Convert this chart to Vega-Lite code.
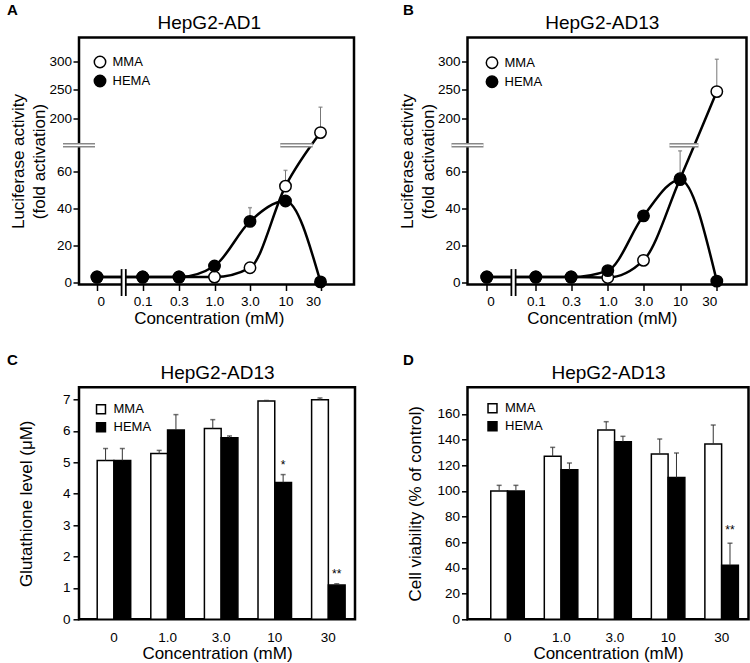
{
  "$schema": "https://vega.github.io/schema/vega-lite/v6.json",
  "padding": {"left": 5, "top": 1.5, "right": 0, "bottom": 0},
  "background": "white",
  "config": {
    "font": "Liberation Sans",
    "view": {"stroke": "black", "strokeWidth": 2.5},
    "axis": {"domain": false, "grid": false, "tickColor": "black", "tickWidth": 1.5, "tickSize": 6, "labelColor": "black", "labelFontSize": 13.5, "titleColor": "black", "titleFontSize": 17, "titleFontWeight": "normal", "labelOverlap": false},
    "title": {"fontSize": 15, "fontWeight": "bold", "color": "black", "offset": 0, "anchor": "start", "frame": "group"},
    "legend": {"labelFontSize": 13, "labelColor": "black", "title": null, "padding": 0, "labelOffset": 6}
  },
  "datasets": {
    "lumA": [
      {"conc": 0, "series": "MMA", "value": 3},
      {"conc": 0.1, "series": "MMA", "value": 3},
      {"conc": 0.3, "series": "MMA", "value": 3},
      {"conc": 1, "series": "MMA", "value": 3},
      {"conc": 3, "series": "MMA", "value": 8},
      {"conc": 10, "series": "MMA", "value": 52, "err": 60.5},
      {"conc": 30, "series": "MMA", "value": 176, "err": 220},
      {"conc": 0, "series": "HEMA", "value": 3},
      {"conc": 0.1, "series": "HEMA", "value": 3},
      {"conc": 0.3, "series": "HEMA", "value": 3},
      {"conc": 1, "series": "HEMA", "value": 9},
      {"conc": 3, "series": "HEMA", "value": 33, "err": 40.4},
      {"conc": 10, "series": "HEMA", "value": 44},
      {"conc": 30, "series": "HEMA", "value": 0.4}
    ],
    "lumB": [
      {"conc": 0, "series": "MMA", "value": 3},
      {"conc": 0.1, "series": "MMA", "value": 3},
      {"conc": 0.3, "series": "MMA", "value": 3},
      {"conc": 1, "series": "MMA", "value": 2.8},
      {"conc": 3, "series": "MMA", "value": 12},
      {"conc": 10, "series": "MMA", "value": 56, "err": 71},
      {"conc": 30, "series": "MMA", "value": 247, "err": 303},
      {"conc": 0, "series": "HEMA", "value": 3},
      {"conc": 0.1, "series": "HEMA", "value": 3},
      {"conc": 0.3, "series": "HEMA", "value": 3},
      {"conc": 1, "series": "HEMA", "value": 6.5},
      {"conc": 3, "series": "HEMA", "value": 36},
      {"conc": 10, "series": "HEMA", "value": 55.5},
      {"conc": 30, "series": "HEMA", "value": 0.8}
    ],
    "gsh": [
      {"conc": "0", "series": "MMA", "value": 5.06, "err": 5.44},
      {"conc": "0", "series": "HEMA", "value": 5.06, "err": 5.44},
      {"conc": "1.0", "series": "MMA", "value": 5.28, "err": 5.38},
      {"conc": "1.0", "series": "HEMA", "value": 6.03, "err": 6.52},
      {"conc": "3.0", "series": "MMA", "value": 6.08, "err": 6.36},
      {"conc": "3.0", "series": "HEMA", "value": 5.78, "err": 5.84},
      {"conc": "10", "series": "MMA", "value": 6.95, "err": 6.97},
      {"conc": "10", "series": "HEMA", "value": 4.36, "err": 4.61, "sig": "*"},
      {"conc": "30", "series": "MMA", "value": 6.99, "err": 7.05},
      {"conc": "30", "series": "HEMA", "value": 1.09, "err": 1.13, "sig": "**"}
    ],
    "via": [
      {"conc": "0", "series": "MMA", "value": 100, "err": 104.4},
      {"conc": "0", "series": "HEMA", "value": 100, "err": 104.4},
      {"conc": "1.0", "series": "MMA", "value": 127, "err": 134},
      {"conc": "1.0", "series": "HEMA", "value": 116.5, "err": 121.8},
      {"conc": "3.0", "series": "MMA", "value": 147.5, "err": 154},
      {"conc": "3.0", "series": "HEMA", "value": 138.4, "err": 142.6},
      {"conc": "10", "series": "MMA", "value": 128.8, "err": 140.5},
      {"conc": "10", "series": "HEMA", "value": 110.5, "err": 129.6},
      {"conc": "30", "series": "MMA", "value": 136.6, "err": 151.4},
      {"conc": "30", "series": "HEMA", "value": 42.1, "err": 59.3, "sig": "**"}
    ]
  },
  "columns": 2,
  "bounds": "flush",
  "align": "each",
  "spacing": {"row": 102.8, "column": 112.5},
  "resolve": {"scale": {"fill": "independent", "x": "independent", "y": "independent"}, "legend": {"fill": "independent"}, "axis": {"x": "independent", "y": "independent"}},
  "concat": [
    {
      "width": 275, "height": 247,
      "title": {"text": "A", "dx": -72, "dy": 8.5},
      "resolve": {"axis": {"x": "independent"}},
      "layer": [
        {
          "data": {"name": "lumA"},
          "layer": [
            {
              "transform": [{"filter": "isValid(datum.err)"}],
              "mark": {"type": "rule", "color": "#777", "strokeWidth": 1},
              "encoding": {
                "x": {"field": "conc", "type": "quantitative", "scale": {"domain": [0, 0.1, 0.3, 1, 3, 10, 30], "range": [18, 63.7, 100, 135.5, 171, 206.5, 241.5], "nice": false, "zero": false},
                  "axis": {"values": [0, 0.1, 0.3, 1, 3, 10, 30], "tickCount": 10, "labelExpr": "datum.value == 0.1 ? '0.1' : datum.value == 0.3 ? '0.3' : datum.value == 1 ? '1.0' : datum.value == 3 ? '3.0' : datum.value == 10 ? '10' : datum.value == 30 ? '30' : '0'", "title": "Concentration (mM)", "labelPadding": 4, "titlePadding": 2}},
                "y": {"field": "value", "type": "quantitative", "scale": {"domain": [-1, 74, 154, 340.7], "range": [247, 107.8, 107.8, 0], "nice": false, "zero": false},
                  "axis": {"values": [0, 20, 40, 60, 200, 250, 300], "tickCount": 10, "format": "d", "title": ["Luciferase activity", "(fold activation)"], "titleLineHeight": 21, "labelPadding": 1.5, "titlePadding": 0}},
                "y2": {"field": "err"}
              }
            },
            {
              "transform": [{"filter": "isValid(datum.err)"}],
              "mark": {"type": "tick", "orient": "horizontal", "color": "#777", "size": 4, "thickness": 1.5},
              "encoding": {"x": {"field": "conc", "type": "quantitative"}, "y": {"field": "err", "type": "quantitative"}}
            },
            {
              "mark": {"type": "line", "interpolate": "monotone", "color": "black", "strokeWidth": 2.5},
              "encoding": {"x": {"field": "conc", "type": "quantitative"}, "y": {"field": "value", "type": "quantitative"}, "detail": {"field": "series"}}
            },
            {
              "mark": {"type": "point", "shape": "circle", "filled": true, "size": 130, "stroke": "black", "strokeWidth": 1.5, "opacity": 1},
              "encoding": {"x": {"field": "conc", "type": "quantitative"}, "y": {"field": "value", "type": "quantitative"},
                "fill": {"field": "series", "type": "nominal", "scale": {"domain": ["MMA", "HEMA"], "range": ["white", "black"]},
                  "legend": {"orient": "none", "legendX": 14.5, "legendY": 18, "rowPadding": 0, "symbolType": "circle", "symbolSize": 130, "symbolStrokeColor": "black", "symbolStrokeWidth": 1.5}}}
            },
            {"data": {"values": [{}]}, "mark": {"type": "rule", "color": "#888", "strokeWidth": 4.5}, "encoding": {"x": {"datum": -0.0744}, "x2": {"datum": -0.0044}, "y": {"datum": 100}}},
            {"data": {"values": [{}]}, "mark": {"type": "rule", "color": "white", "strokeWidth": 1.5}, "encoding": {"x": {"datum": -0.0744}, "x2": {"datum": -0.0044}, "y": {"datum": 100}}},
            {"data": {"values": [{}]}, "mark": {"type": "rule", "color": "#888", "strokeWidth": 4.5}, "encoding": {"x": {"datum": 8.975}, "x2": {"datum": 25.54}, "y": {"datum": 100}}},
            {"data": {"values": [{}]}, "mark": {"type": "rule", "color": "white", "strokeWidth": 1.5}, "encoding": {"x": {"datum": 8.975}, "x2": {"datum": 25.54}, "y": {"datum": 100}}},
            {"data": {"values": [{}]}, "mark": {"type": "rule", "color": "black", "strokeWidth": 6}, "encoding": {"x": {"datum": 0.0584}, "y": {"datum": -7.2}, "y2": {"datum": 7.3}}},
            {"data": {"values": [{}]}, "mark": {"type": "rule", "color": "white", "strokeWidth": 2.5}, "encoding": {"x": {"datum": 0.0584}, "y": {"datum": -7.2}, "y2": {"datum": 7.3}}}
          ]
        },
        {
          "data": {"values": [{}]},
          "mark": {"type": "point", "opacity": 0},
          "encoding": {
            "x": {"datum": 0, "axis": {"orient": "top", "title": "HepG2-AD1", "labels": false, "ticks": false, "titleFontSize": 19, "titlePadding": 5}},
            "y": {"datum": 0}
          }
        }
      ]
    },
    {
      "width": 279, "height": 247,
      "title": {"text": "B", "dx": -64.5, "dy": 8.5},
      "resolve": {"axis": {"x": "independent"}},
      "layer": [
        {
          "data": {"name": "lumB"},
          "layer": [
            {
              "transform": [{"filter": "isValid(datum.err)"}],
              "mark": {"type": "rule", "color": "#777", "strokeWidth": 1},
              "encoding": {
                "x": {"field": "conc", "type": "quantitative", "scale": {"domain": [0, 0.1, 0.3, 1, 3, 10, 30], "range": [19.3, 68.3, 103.6, 140.3, 176, 212.6, 249.3], "nice": false, "zero": false},
                  "axis": {"values": [0, 0.1, 0.3, 1, 3, 10, 30], "tickCount": 10, "labelExpr": "datum.value == 0.1 ? '0.1' : datum.value == 0.3 ? '0.3' : datum.value == 1 ? '1.0' : datum.value == 3 ? '3.0' : datum.value == 10 ? '10' : datum.value == 30 ? '30' : '0'", "title": "Concentration (mM)", "labelPadding": 4, "titlePadding": 2}},
                "y": {"field": "value", "type": "quantitative", "scale": {"domain": [-1, 74, 154, 340.7], "range": [247, 107.8, 107.8, 0], "nice": false, "zero": false},
                  "axis": {"values": [0, 20, 40, 60, 200, 250, 300], "tickCount": 10, "format": "d", "title": ["Luciferase activity", "(fold activation)"], "titleLineHeight": 21, "labelPadding": 1.5, "titlePadding": 0}},
                "y2": {"field": "err"}
              }
            },
            {
              "transform": [{"filter": "isValid(datum.err)"}],
              "mark": {"type": "tick", "orient": "horizontal", "color": "#777", "size": 4, "thickness": 1.5},
              "encoding": {"x": {"field": "conc", "type": "quantitative"}, "y": {"field": "err", "type": "quantitative"}}
            },
            {
              "mark": {"type": "line", "interpolate": "monotone", "color": "black", "strokeWidth": 2.5},
              "encoding": {"x": {"field": "conc", "type": "quantitative"}, "y": {"field": "value", "type": "quantitative"}, "detail": {"field": "series"}}
            },
            {
              "mark": {"type": "point", "shape": "circle", "filled": true, "size": 130, "stroke": "black", "strokeWidth": 1.5, "opacity": 1},
              "encoding": {"x": {"field": "conc", "type": "quantitative"}, "y": {"field": "value", "type": "quantitative"},
                "fill": {"field": "series", "type": "nominal", "scale": {"domain": ["MMA", "HEMA"], "range": ["white", "black"]},
                  "legend": {"orient": "none", "legendX": 18, "legendY": 18.8, "rowPadding": 0, "symbolType": "circle", "symbolSize": 130, "symbolStrokeColor": "black", "symbolStrokeWidth": 1.5}}}
            },
            {"data": {"values": [{}]}, "mark": {"type": "rule", "color": "#888", "strokeWidth": 4.5}, "encoding": {"x": {"datum": -0.072}, "x2": {"datum": -0.0068}, "y": {"datum": 100}}},
            {"data": {"values": [{}]}, "mark": {"type": "rule", "color": "white", "strokeWidth": 1.5}, "encoding": {"x": {"datum": -0.072}, "x2": {"datum": -0.0068}, "y": {"datum": 100}}},
            {"data": {"values": [{}]}, "mark": {"type": "rule", "color": "#888", "strokeWidth": 4.5}, "encoding": {"x": {"datum": 7.97}, "x2": {"datum": 20.0}, "y": {"datum": 100}}},
            {"data": {"values": [{}]}, "mark": {"type": "rule", "color": "white", "strokeWidth": 1.5}, "encoding": {"x": {"datum": 7.97}, "x2": {"datum": 20.0}, "y": {"datum": 100}}},
            {"data": {"values": [{}]}, "mark": {"type": "rule", "color": "black", "strokeWidth": 6}, "encoding": {"x": {"datum": 0.0545}, "y": {"datum": -7.2}, "y2": {"datum": 7.3}}},
            {"data": {"values": [{}]}, "mark": {"type": "rule", "color": "white", "strokeWidth": 2.5}, "encoding": {"x": {"datum": 0.0545}, "y": {"datum": -7.2}, "y2": {"datum": 7.3}}}
          ]
        },
        {
          "data": {"values": [{}]},
          "mark": {"type": "point", "opacity": 0},
          "encoding": {
            "x": {"datum": 0, "axis": {"orient": "top", "title": "HepG2-AD13", "labels": false, "ticks": false, "titleFontSize": 19, "titlePadding": 5}},
            "y": {"datum": 0}
          }
        }
      ]
    },
    {
      "width": 276, "height": 232,
      "title": {"text": "C", "dx": -72, "dy": 8.5},
      "resolve": {"axis": {"x": "independent"}},
      "layer": [
        {
          "data": {"name": "gsh"},
          "layer": [
            {
              "mark": {"type": "bar", "stroke": "black", "strokeWidth": 1.5},
              "encoding": {
                "x": {"field": "conc", "type": "nominal", "scale": {"domain": ["0", "1.0", "3.0", "10", "30"], "paddingInner": 0.375, "paddingOuter": 0.262, "align": 0.648},
                  "axis": {"title": "Concentration (mM)", "labelAngle": 0, "ticks": false, "labelPadding": 11.5, "titlePadding": 1}},
                "xOffset": {"field": "series", "type": "nominal", "scale": {"domain": ["MMA", "HEMA"], "paddingInner": 0, "paddingOuter": 0}},
                "y": {"field": "value", "type": "quantitative", "stack": null, "scale": {"domain": [0, 7.39], "nice": false, "zero": false},
                  "axis": {"values": [0, 1, 2, 3, 4, 5, 6, 7], "tickCount": 20, "format": "d", "labelOverlap": false, "title": "Glutathione level (μM)", "labelPadding": 3, "titlePadding": 27}},
                "fill": {"field": "series", "type": "nominal", "scale": {"domain": ["MMA", "HEMA"], "range": ["white", "black"]},
                  "legend": {"orient": "none", "legendX": 15.5, "legendY": 15.5, "rowPadding": 3, "symbolType": "square", "symbolSize": 80, "symbolStrokeColor": "black", "symbolStrokeWidth": 1.5}}
              }
            },
            {
              "mark": {"type": "rule", "color": "#333", "strokeWidth": 1},
              "encoding": {"x": {"field": "conc", "type": "nominal"}, "xOffset": {"field": "series", "type": "nominal"}, "y": {"field": "value", "type": "quantitative"}, "y2": {"field": "err"}}
            },
            {
              "mark": {"type": "tick", "orient": "horizontal", "color": "#333", "size": 5, "thickness": 1.5},
              "encoding": {"x": {"field": "conc", "type": "nominal"}, "xOffset": {"field": "series", "type": "nominal"}, "y": {"field": "err", "type": "quantitative"}}
            },
            {
              "transform": [{"filter": "isValid(datum.sig)"}],
              "mark": {"type": "text", "baseline": "bottom", "dy": -3, "fontSize": 12, "color": "black"},
              "encoding": {"x": {"field": "conc", "type": "nominal"}, "xOffset": {"field": "series", "type": "nominal"}, "y": {"field": "err", "type": "quantitative"}, "text": {"field": "sig"}}
            }
          ]
        },
        {
          "data": {"values": [{}]},
          "mark": {"type": "point", "opacity": 0},
          "encoding": {
            "x": {"datum": "0", "type": "nominal", "axis": {"orient": "top", "title": "HepG2-AD13", "labels": false, "ticks": false, "titleFontSize": 19, "titlePadding": 5}},
            "y": {"datum": 0}
          }
        }
      ]
    },
    {
      "width": 281, "height": 232,
      "title": {"text": "D", "dx": -64.5, "dy": 8.5},
      "resolve": {"axis": {"x": "independent"}},
      "layer": [
        {
          "data": {"name": "via"},
          "layer": [
            {
              "mark": {"type": "bar", "stroke": "black", "strokeWidth": 1.5},
              "encoding": {
                "x": {"field": "conc", "type": "nominal", "scale": {"domain": ["0", "1.0", "3.0", "10", "30"], "paddingInner": 0.366, "paddingOuter": 0.308, "align": 0.706},
                  "axis": {"title": "Concentration (mM)", "labelAngle": 0, "ticks": false, "labelPadding": 11.5, "titlePadding": 1}},
                "xOffset": {"field": "series", "type": "nominal", "scale": {"domain": ["MMA", "HEMA"], "paddingInner": 0, "paddingOuter": 0}},
                "y": {"field": "value", "type": "quantitative", "stack": null, "scale": {"domain": [0, 180.8], "nice": false, "zero": false},
                  "axis": {"values": [0, 20, 40, 60, 80, 100, 120, 140, 160], "tickCount": 20, "format": "d", "labelOverlap": false, "title": "Cell viability (% of control)", "labelPadding": 2, "titlePadding": 12}},
                "fill": {"field": "series", "type": "nominal", "scale": {"domain": ["MMA", "HEMA"], "range": ["white", "black"]},
                  "legend": {"orient": "none", "legendX": 18.5, "legendY": 14.5, "rowPadding": 3, "symbolType": "square", "symbolSize": 80, "symbolStrokeColor": "black", "symbolStrokeWidth": 1.5}}
              }
            },
            {
              "mark": {"type": "rule", "color": "#333", "strokeWidth": 1},
              "encoding": {"x": {"field": "conc", "type": "nominal"}, "xOffset": {"field": "series", "type": "nominal"}, "y": {"field": "value", "type": "quantitative"}, "y2": {"field": "err"}}
            },
            {
              "mark": {"type": "tick", "orient": "horizontal", "color": "#333", "size": 5, "thickness": 1.5},
              "encoding": {"x": {"field": "conc", "type": "nominal"}, "xOffset": {"field": "series", "type": "nominal"}, "y": {"field": "err", "type": "quantitative"}}
            },
            {
              "transform": [{"filter": "isValid(datum.sig)"}],
              "mark": {"type": "text", "baseline": "bottom", "dy": -6, "fontSize": 12, "color": "black"},
              "encoding": {"x": {"field": "conc", "type": "nominal"}, "xOffset": {"field": "series", "type": "nominal"}, "y": {"field": "err", "type": "quantitative"}, "text": {"field": "sig"}}
            }
          ]
        },
        {
          "data": {"values": [{}]},
          "mark": {"type": "point", "opacity": 0},
          "encoding": {
            "x": {"datum": "0", "type": "nominal", "axis": {"orient": "top", "title": "HepG2-AD13", "labels": false, "ticks": false, "titleFontSize": 19, "titlePadding": 5}},
            "y": {"datum": 0}
          }
        }
      ]
    }
  ]
}
